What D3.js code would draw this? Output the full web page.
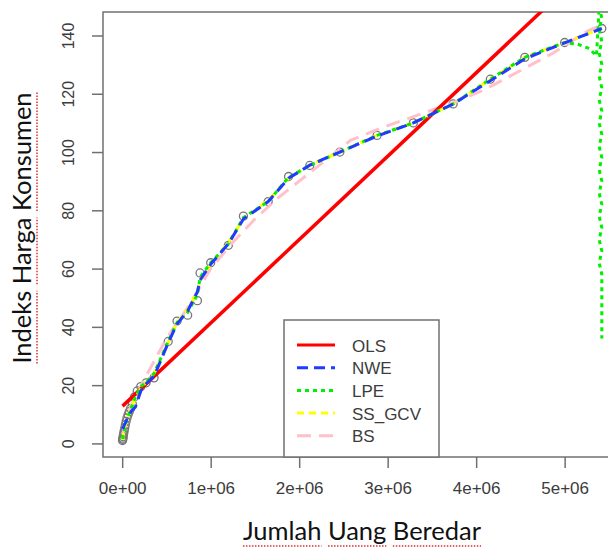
<!DOCTYPE html>
<html>
<head>
<meta charset="utf-8">
<script src="https://cdn.jsdelivr.net/npm/d3@7"></script>
<style>
  body { margin: 0; background: #fff; }
  svg { display: block; }
</style>
</head>
<body>
<script>

// observed points (money supply, consumer price index), x in millions
var obsX = [0.004, 0.006, 0.008, 0.011, 0.014, 0.018, 0.023, 0.029, 0.036, 0.045, 0.055, 0.067, 0.08, 0.095, 0.115,
            0.14, 0.17, 0.21, 0.27, 0.36, 0.52, 0.62, 0.74, 0.85, 0.88, 1.0, 1.2, 1.37, 1.65, 1.88,
            2.12, 2.46, 2.88, 3.29, 3.74, 4.16, 4.55, 5.0, 5.42];
var obsY = [1.0, 1.4, 1.8, 2.3, 2.9, 3.6, 4.4, 5.3, 6.4, 7.6, 8.8, 9.9, 10.9, 12.0, 13.5,
            16.0, 18.0, 19.5, 20.8, 22.5, 35.0, 42.0, 44.0, 49.0, 58.5, 62.0, 68.0, 78.0, 83.0, 91.6,
            95.4, 100.0, 105.7, 110.0, 116.5, 125.0, 132.5, 137.6, 142.4];

// fitted curves, x in millions
var olsX = [0.004, 5.42];
var olsY = [12.8, 167.8];

var nweX = [0.004, 0.02, 0.05, 0.1, 0.15, 0.21, 0.27, 0.36, 0.52, 0.62, 0.74, 0.85, 0.88, 1.0, 1.2, 1.37, 1.65, 1.88,
            2.12, 2.46, 2.88, 3.29, 3.74, 4.16, 4.55, 5.0, 5.42];
var nweY = [5, 6, 8, 11, 12.5, 18, 20.5, 23, 34.5, 41, 45.5, 52, 56, 61.5, 68.5, 77, 83, 91,
            95.5, 100, 105.5, 110, 116.5, 124.5, 132, 137.5, 142.4];

// local polynomial blows up at the right edge
var lpeX = [0.004, 0.02, 0.05, 0.1, 0.15, 0.21, 0.27, 0.36, 0.52, 0.62, 0.74, 0.85, 0.88, 1.0, 1.2, 1.37, 1.65, 1.88,
            2.12, 2.46, 2.88, 3.29, 3.74, 4.16, 4.55, 5.0, 5.15, 5.28, 5.36,
            5.39, 5.42, 5.39, 5.42, 5.39, 5.42, 5.39, 5.42, 5.39, 5.42, 5.39, 5.42, 5.39, 5.42,
            5.39, 5.42, 5.39, 5.42, 5.39, 5.42, 5.39, 5.42, 5.39, 5.42, 5.42];
var lpeY = [1.5, 4, 8, 12, 16, 19.5, 21, 24, 35, 41.5, 45, 51, 57, 62, 68.5, 77.5, 83, 91.3,
            95.4, 100, 105.7, 110, 116.5, 125, 132.5, 137.6, 137, 135.5, 133,
            150, 146, 142, 138, 134, 130, 126, 122, 118, 114, 110, 106, 102, 98,
            94, 90, 86, 82, 78, 74, 70, 66, 62, 58, 36];

var ssX = [0.004, 0.02, 0.05, 0.1, 0.15, 0.21, 0.27, 0.36, 0.52, 0.62, 0.74, 0.85, 0.88, 1.0, 1.2, 1.37, 1.65, 1.88,
           2.12, 2.46, 2.88, 3.29, 3.74, 4.16, 4.55, 5.0, 5.42];
var ssY = [1.2, 4, 8.5, 12, 15.5, 19, 21, 24, 34.5, 41.5, 46, 52, 56, 61.5, 69, 77, 83.5, 91,
           95.5, 100, 105.7, 110, 116.5, 125, 132.5, 137.6, 142.4];

var bsX = [0.004, 0.1, 0.25, 0.5, 0.75, 1.0, 1.25, 1.5, 1.75, 2.0, 2.25, 2.58, 2.95, 3.37, 3.75, 4.1, 4.46, 4.87, 5.27, 5.42];
var bsY = [3, 13, 22, 36, 47, 60, 69, 77, 84, 90, 96, 104, 108.5, 113, 117, 121.5, 127.3, 134, 141.7, 143.5];

// tick labels
var xTicks = [0, 1e6, 2e6, 3e6, 4e6, 5e6];
var xTickLabels = ["0e+00", "1e+06", "2e+06", "3e+06", "4e+06", "5e+06"];
var yTicks = [0, 20, 40, 60, 80, 100, 120, 140];

// legend
var legendNames = ["OLS", "NWE", "LPE", "SS_GCV", "BS"];
var legendColors = ["#ff0000", "#1f3bff", "#00ee00", "#ffff00", "#ffc0cb"];
var legendDash = ["none", "11,6", "4,4", "7,5", "14,8"];

var width = 608, height = 548;
var plot = {left: 103, top: 12, right: 621, bottom: 457};

var svg = d3.select("body")
			.append("svg")
			.attr("width", width)
			.attr("height", height);

// R style extended ranges
var xScale = d3.scaleLinear()
				.domain([-0.2168e6, 5.6368e6])
				.range([plot.left, plot.right]);

var yScale = d3.scaleLinear()
				.domain([-4.66, 148.06])
				.range([plot.bottom, plot.top]);

svg.append("clipPath")
   .attr("id", "clip")
   .append("rect")
   .attr("x", plot.left)
   .attr("y", plot.top)
   .attr("width", plot.right - plot.left)
   .attr("height", plot.bottom - plot.top);

var frameColor = "#707070";
var labelColor = "#3c3c3c";

// x axis ticks and labels
var xAxis = svg.append("g")
				.attr("transform", "translate(0," + plot.bottom + ")")
				.call(d3.axisBottom(xScale)
						.tickValues(xTicks)
						.tickSize(11)
						.tickPadding(14)
						.tickFormat(function(d, i){ return xTickLabels[i]; }));
xAxis.select(".domain").remove();
xAxis.selectAll("line").attr("stroke", frameColor).attr("stroke-width", 1.5);
xAxis.selectAll("text")
	 .attr("fill", labelColor)
	 .style("font-family", "'Liberation Sans', Arial, sans-serif")
	 .style("font-size", "17px");

// y axis ticks and rotated labels
var yAxis = svg.append("g")
				.attr("transform", "translate(" + plot.left + ",0)")
				.call(d3.axisLeft(yScale).tickValues(yTicks).tickSize(11));
yAxis.select(".domain").remove();
yAxis.selectAll("line").attr("stroke", frameColor).attr("stroke-width", 1.5);
yAxis.selectAll("text")
	 .attr("x", null)
	 .attr("dy", null)
	 .attr("fill", labelColor)
	 .attr("text-anchor", "middle")
	 .attr("transform", "translate(-29,0) rotate(-90)")
	 .style("font-family", "'Liberation Sans', Arial, sans-serif")
	 .style("font-size", "16px");

// plot box
svg.append("rect")
   .attr("x", plot.left)
   .attr("y", plot.top)
   .attr("width", plot.right - plot.left)
   .attr("height", plot.bottom - plot.top)
   .attr("fill", "none")
   .attr("stroke", frameColor)
   .attr("stroke-width", 1.5);

var inner = svg.append("g").attr("clip-path", "url(#clip)");

// observed points
inner.selectAll("circle")
	 .data(obsX)
	 .enter()
	 .append("circle")
	 .attr("cx", function(d){ return xScale(d * 1e6); })
	 .attr("cy", function(d, i){ return yScale(obsY[i]); })
	 .attr("r", 4)
	 .attr("fill", "none")
	 .attr("stroke", "#777")
	 .attr("stroke-width", 1.3);

function drawCurve(xs, ys, color, dash, w) {
	var pts = xs.map(function(d, i){ return [d * 1e6, ys[i]]; });
	var line = d3.line()
				 .x(function(d){ return xScale(d[0]); })
				 .y(function(d){ return yScale(d[1]); });
	inner.append("path")
		 .datum(pts)
		 .attr("d", line)
		 .attr("fill", "none")
		 .attr("stroke", color)
		 .attr("stroke-width", w)
		 .attr("stroke-dasharray", dash);
}

drawCurve(bsX, bsY, legendColors[4], legendDash[4], 3);
drawCurve(olsX, olsY, legendColors[0], legendDash[0], 3.5);
drawCurve(ssX, ssY, legendColors[3], legendDash[3], 3);
drawCurve(lpeX, lpeY, legendColors[2], legendDash[2], 3);
drawCurve(nweX, nweY, legendColors[1], legendDash[1], 3);

// legend box
var legendBox = {x: 284, y: 320, w: 155, h: 137};
svg.append("rect")
   .attr("x", legendBox.x)
   .attr("y", legendBox.y)
   .attr("width", legendBox.w)
   .attr("height", legendBox.h)
   .attr("fill", "#fff")
   .attr("stroke", frameColor)
   .attr("stroke-width", 1.5);

var legend = svg.selectAll(".legend")
				.data(legendNames)
				.enter().append("g")
				.attr("class", "legend")
				.attr("transform", function(d, i){
					return "translate(" + legendBox.x + "," + (legendBox.y + 25 + i * 22.7) + ")";
				});

legend.append("line")
	  .attr("x1", 13)
	  .attr("x2", 51)
	  .attr("stroke", function(d, i){ return legendColors[i]; })
	  .attr("stroke-width", 3)
	  .attr("stroke-dasharray", function(d, i){ return legendDash[i]; });

legend.append("text")
	  .attr("x", 68)
	  .attr("y", 6.5)
	  .attr("fill", labelColor)
	  .style("font-family", "'Liberation Sans', Arial, sans-serif")
	  .style("font-size", "17px")
	  .text(function(d){ return d; });

// axis titles with the red spell check marks underneath
function addTitle(g, label) {
	var t = g.append("text")
			 .attr("text-anchor", "middle")
			 .attr("fill", "#111")
			 .style("font-family", "Lato, 'Open Sans', sans-serif")
			 .style("font-size", "25.5px")
			 .text(label);
	var node = t.node();
	var total = node.getComputedTextLength();
	var start = -total / 2;
	var pos = 0;
	label.split(" ").forEach(function(word){
		var off = node.getSubStringLength(0, pos);
		var w = node.getSubStringLength(pos, word.length);
		g.append("line")
		 .attr("x1", start + off)
		 .attr("x2", start + off + w)
		 .attr("y1", 6)
		 .attr("y2", 6)
		 .attr("stroke", "#e03030")
		 .attr("stroke-width", 1.5)
		 .attr("stroke-dasharray", "1.5,1.5");
		pos += word.length + 1;
	});
}

addTitle(svg.append("g").attr("transform", "translate(362,540)"), "Jumlah Uang Beredar");
addTitle(svg.append("g").attr("transform", "translate(31,228) rotate(-90)"), "Indeks Harga Konsumen");

</script>
</body>
</html>
